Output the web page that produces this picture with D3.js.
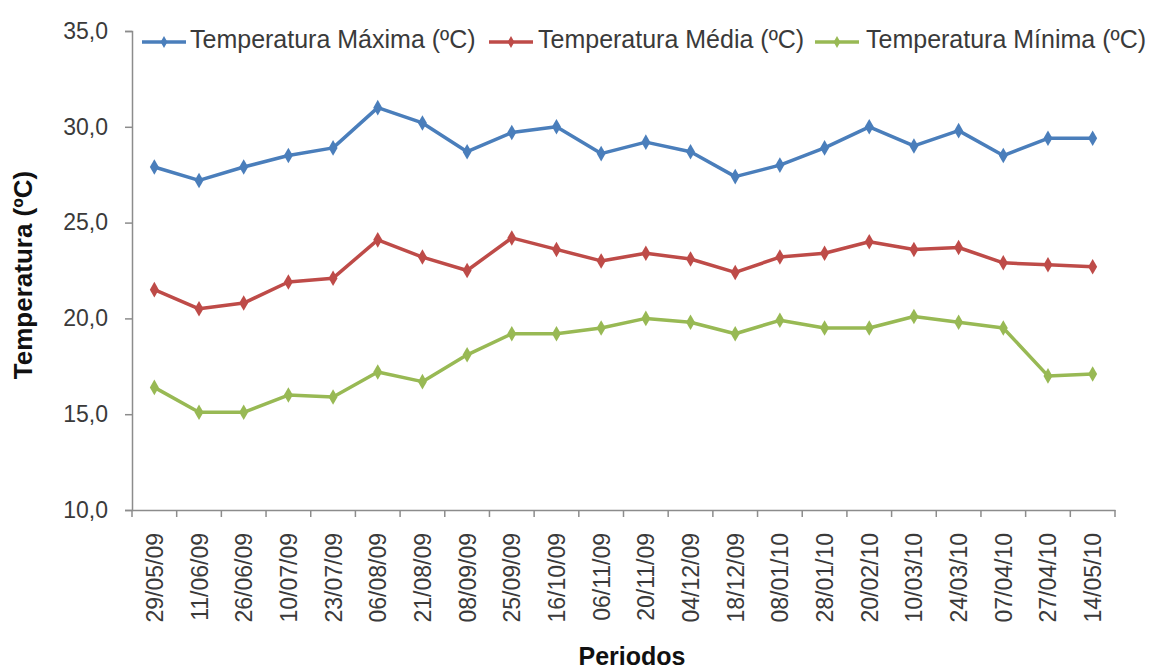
<!DOCTYPE html>
<html><head><meta charset="utf-8">
<script src="https://cdn.jsdelivr.net/npm/d3@7"></script>
<style>body{margin:0;background:#fff;} text{font-family:"Liberation Sans",Arial,sans-serif;}</style>
</head><body>
<svg id="c" width="1151" height="671"></svg>
<script>
const categories = ["29/05/09","11/06/09","26/06/09","10/07/09","23/07/09","06/08/09","21/08/09","08/09/09","25/09/09","16/10/09","06/11/09","20/11/09","04/12/09","18/12/09","08/01/10","28/01/10","20/02/10","10/03/10","24/03/10","07/04/10","27/04/10","14/05/10"];
const tempMax = [27.9,27.2,27.9,28.5,28.9,31.0,30.2,28.7,29.7,30.0,28.6,29.2,28.7,27.4,28.0,28.9,30.0,29.0,29.8,28.5,29.4,29.4];
const tempMed = [21.5,20.5,20.8,21.9,22.1,24.1,23.2,22.5,24.2,23.6,23.0,23.4,23.1,22.4,23.2,23.4,24.0,23.6,23.7,22.9,22.8,22.7];
const tempMin = [16.4,15.1,15.1,16.0,15.9,17.2,16.7,18.1,19.2,19.2,19.5,20.0,19.8,19.2,19.9,19.5,19.5,20.1,19.8,19.5,17.0,17.1];
const seriesNames = ["Temperatura Máxima (ºC)","Temperatura Média (ºC)","Temperatura Mínima (ºC)"];
const yTicks = [10,15,20,25,30,35];

(function(){
const colors = ["#4a7ebb","#be4b48","#98b954"];
const series = [tempMax,tempMed,tempMin];
const svg = d3.select("#c");
const mL=132,mR=1115,mT=31,mB=510;
const x = d3.scaleBand().domain(categories).range([mL,mR]);
const y = d3.scaleLinear().domain([10,35]).range([mB,mT]);
const axisColor="#8c8c8c", textColor="#3a3a3a";

// y axis
const ya = svg.append("g").attr("transform",`translate(${mL},0)`)
  .call(d3.axisLeft(y).tickValues(yTicks).tickSize(7).tickPadding(17).tickFormat(d=>d3.format(".1f")(d).replace(".",",")));
ya.select(".domain").attr("stroke",axisColor).attr("stroke-width",1.5);
ya.selectAll(".tick line").attr("stroke",axisColor).attr("stroke-width",1.5);
ya.selectAll(".tick text").attr("fill",textColor).attr("font-size",23).attr("font-family","Liberation Sans, Arial, sans-serif");

// x axis
const xa = svg.append("g").attr("transform",`translate(0,${mB})`)
  .call(d3.axisBottom(x).tickSize(0).tickFormat(""));
xa.select(".domain").attr("stroke",axisColor).attr("stroke-width",1.5);
const bounds = categories.map(c=>x(c)).concat([mR]);
svg.append("g").selectAll("line").data(bounds).join("line")
  .attr("x1",d=>d).attr("x2",d=>d).attr("y1",mB).attr("y2",mB+7)
  .attr("stroke",axisColor).attr("stroke-width",1.5);
svg.append("g").selectAll("text").data(categories).join("text")
  .attr("transform",d=>`translate(${x(d)+x.bandwidth()/2+8.5},${mB+23}) rotate(-90)`)
  .attr("text-anchor","end").attr("font-size",23).attr("fill",textColor).text(d=>d);

// axis titles
svg.append("text").attr("transform",`translate(32,275) rotate(-90)`)
  .attr("text-anchor","middle").attr("font-size",26).attr("font-weight","bold").attr("fill","#111").text("Temperatura (ºC)");
svg.append("text").attr("x",632).attr("y",665).attr("text-anchor","middle")
  .attr("font-size",25).attr("font-weight","bold").attr("fill","#111").text("Periodos");

// lines
const line = d3.line().x((d,i)=>x(categories[i])+x.bandwidth()/2).y(d=>y(d));
const diamond = d3.symbol().type(d3.symbolDiamond).size(70);
series.forEach((s,k)=>{
  svg.append("path").datum(s).attr("d",line).attr("fill","none").attr("stroke",colors[k]).attr("stroke-width",3.5).attr("stroke-linejoin","round");
  svg.append("g").selectAll("path").data(s).join("path")
    .attr("d",diamond).attr("transform",(d,i)=>`translate(${x(categories[i])+x.bandwidth()/2},${y(d)})`)
    .attr("fill",colors[k]);
});

// legend
const legX=[142,489,815], legT=[190,538,866];
const smallDiamond = d3.symbol().type(d3.symbolDiamond).size(40);
seriesNames.forEach((n,k)=>{
  const g=svg.append("g").attr("transform",`translate(0,42)`);
  g.append("line").attr("x1",legX[k]).attr("x2",legX[k]+44).attr("stroke",colors[k]).attr("stroke-width",3.5);
  g.append("path").attr("d",smallDiamond).attr("transform",`translate(${legX[k]+22},0)`).attr("fill",colors[k]);
  g.append("text").attr("x",legT[k]).attr("y",6).attr("font-size",25).attr("fill",textColor).text(n);
});
})();
</script>
</body></html>
